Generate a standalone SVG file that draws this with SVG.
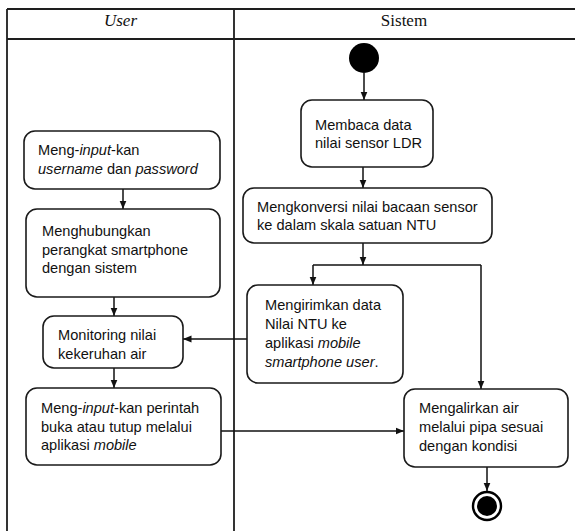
<svg xmlns="http://www.w3.org/2000/svg" width="575" height="531" viewBox="0 0 575 531">
<style>
.frame{stroke:#1e1e1e;stroke-width:1.8;fill:none}
.head{font-family:"Liberation Serif","Times New Roman",serif;font-size:17px;fill:#111;text-anchor:middle}
.box{fill:#fff;stroke:#1a1a1a;stroke-width:1.6}
.t{font-family:"Liberation Sans",Arial,sans-serif;font-size:14.6px;fill:#111}
.i{font-style:italic}
.c{stroke:#111;stroke-width:1.5;fill:none}
.a{marker-end:url(#ah)}
</style>
<defs>
<marker id="ah" markerWidth="9" markerHeight="8" refX="8.5" refY="4" orient="auto" markerUnits="userSpaceOnUse">
<path d="M0,0.5 L8.5,4 L0,7.5 z" fill="#111"/>
</marker>
</defs>
<rect width="575" height="531" fill="#fff"/>
<g id="swimlanes">
<path class="frame" d="M7,9 H580 M7,39 H580 M7,9 V531 M234,9 V531"/>
<text class="head" x="120.5" y="26" font-style="italic">User</text>
<text class="head" x="404" y="26">Sistem</text>
</g>
<g id="connectors">
<path class="c a" d="M364,73 V100"/>
<path class="c a" d="M363,167 V188"/>
<path class="c a" d="M363,243 V265"/>
<path class="c" d="M313,265 H481"/>
<path class="c a" d="M313,265 V285"/>
<path class="c a" d="M481,265 V389"/>
<path class="c a" d="M247,339 H183"/>
<path class="c a" d="M123,189 V209"/>
<path class="c a" d="M114,297 V316"/>
<path class="c a" d="M114,368 V388"/>
<path class="c a" d="M221,431 H404"/>
<path class="c a" d="M487,467 V491"/>
</g>
<g id="start"><circle cx="364" cy="58" r="15" fill="#000"/></g>
<g id="end"><circle cx="487" cy="506" r="14" fill="#fff" stroke="#000" stroke-width="2.4"/><circle cx="487" cy="506" r="10" fill="#000"/></g>
<g id="user-input-login">
<rect class="box" x="24" y="131" width="196" height="58" rx="11"/>
<text class="t" x="38" y="155">Meng-<tspan class="i">input</tspan>-kan</text>
<text class="t" x="38" y="173.5"><tspan class="i">username</tspan> dan <tspan class="i">password</tspan></text>
</g>
<g id="user-connect">
<rect class="box" x="26" y="209" width="194" height="88" rx="11"/>
<text class="t" x="42" y="236">Menghubungkan</text>
<text class="t" x="42" y="254.5">perangkat smartphone</text>
<text class="t" x="42" y="273">dengan sistem</text>
</g>
<g id="user-monitoring">
<rect class="box" x="43" y="316" width="140" height="52" rx="11"/>
<text class="t" x="58" y="340">Monitoring nilai</text>
<text class="t" x="58" y="358.5">kekeruhan air</text>
</g>
<g id="user-command">
<rect class="box" x="26" y="388" width="195" height="77" rx="11"/>
<text class="t" x="41" y="413">Meng-<tspan class="i">input</tspan>-kan perintah</text>
<text class="t" x="41" y="431.5">buka atau tutup melalui</text>
<text class="t" x="41" y="450">aplikasi <tspan class="i">mobile</tspan></text>
</g>
<g id="sys-read">
<rect class="box" x="301" y="100" width="132" height="67" rx="11"/>
<text class="t" x="315" y="129.5">Membaca data</text>
<text class="t" x="315" y="148">nilai sensor LDR</text>
</g>
<g id="sys-convert">
<rect class="box" x="243" y="188" width="249" height="55" rx="11"/>
<text class="t" x="257" y="211.5">Mengkonversi nilai bacaan sensor</text>
<text class="t" x="257" y="230">ke dalam skala satuan NTU</text>
</g>
<g id="sys-send">
<rect class="box" x="247" y="285" width="156" height="98" rx="11"/>
<text class="t" x="265" y="310">Mengirimkan data</text>
<text class="t" x="265" y="329">Nilai NTU ke</text>
<text class="t" x="265" y="348">aplikasi <tspan class="i">mobile</tspan></text>
<text class="t" x="265" y="367"><tspan class="i">smartphone user</tspan>.</text>
</g>
<g id="sys-flow">
<rect class="box" x="404" y="389" width="164" height="78" rx="11"/>
<text class="t" x="419" y="413">Mengalirkan air</text>
<text class="t" x="419" y="432">melalui pipa sesuai</text>
<text class="t" x="419" y="451">dengan kondisi</text>
</g>
</svg>
